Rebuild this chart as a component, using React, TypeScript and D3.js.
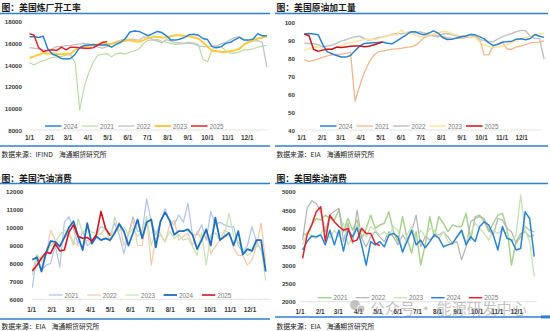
import React from 'react';
import * as d3 from 'd3';

const W = 550;
const H = 331;

const monthLabels = ['1/1', '2/1', '3/1', '4/1', '5/1', '6/1', '7/1', '8/1', '9/1', '10/1', '11/1', '12/1'];
const monthDays = [0, 31, 59, 90, 120, 151, 181, 212, 243, 273, 304, 334];

// 图：美国炼厂开工率 (weekly)
const refinery2024 = [16600, 16600, 16550, 16650, 15500, 15000, 14850, 14600, 14550, 14600, 15000, 15600, 15800, 15850, 15900, 15850, 15850, 15850, 15650, 15900, 16100, 16450, 17050, 17150, 17100, 16900, 16700, 16900, 17100, 17000, 16700, 16300, 16300, 16400, 16550, 16800, 16850, 16750, 16450, 16350, 15700, 15600, 15700, 16000, 16100, 16350, 16550, 16300, 16300, 16400, 16900, 16700, 16700];
const refinery2021 = [14200, 14000, 14250, 14400, 14550, 14700, 14750, 14800, 14900, 14950, 14200, 9850, 12000, 13300, 14300, 14900, 15000, 15050, 14750, 15050, 15100, 15000, 15200, 15300, 15500, 16000, 16300, 16300, 16350, 16200, 16100, 16000, 15900, 15950, 16000, 16000, 16050, 15900, 14500, 14300, 15400, 15700, 15700, 15300, 15100, 15100, 15200, 15400, 15400, 15500, 15650, 15750, 15800];
const refinery2022 = [15600, 15550, 15500, 15400, 15350, 15500, 15700, 15700, 15800, 15800, 15900, 15950, 16000, 15950, 15800, 15650, 15550, 15700, 16000, 16150, 16300, 16350, 16400, 16350, 16300, 16600, 16550, 16350, 16200, 16050, 16350, 16200, 16050, 16050, 16000, 16100, 15950, 15800, 15700, 15700, 15750, 15800, 15950, 16100, 16350, 16550, 16600, 16350, 16150, 16200, 16250, 16100, 13800];
const refinery2023 = [14650, 14800, 14950, 15100, 15050, 15100, 15000, 15000, 15050, 15050, 15400, 15600, 15700, 15750, 15850, 15900, 15950, 15950, 15950, 16050, 16200, 16250, 16300, 16200, 16150, 16300, 16500, 16600, 16600, 16550, 16550, 16650, 16750, 16750, 16650, 16650, 16550, 16450, 16100, 15700, 15300, 15300, 15200, 15200, 15300, 15350, 15500, 15900, 16100, 16300, 16450, 16550, 16650];
const refinery2025 = [16900, 16750, 15600, 15250, 15350, 15400, 15350, 15650, 15400, 15650, 15650, 15600, 15550, 15550, 15600, 15850, 16100, 16150];

// 图：美国原油加工量
const crude2024 = [93.5, 93.8, 93.5, 93.1, 87.5, 83.5, 82.5, 81.5, 80.7, 80.6, 81.5, 84.2, 86.7, 88.2, 88.4, 88.6, 88.8, 89.0, 88.3, 88.0, 89.5, 91.2, 92.8, 94.6, 94.8, 93.6, 93.0, 94.0, 95.2, 94.0, 91.5, 90.4, 90.5, 91.3, 92.0, 92.4, 93.2, 93.0, 92.0, 90.8, 88.6, 87.0, 87.8, 89.0, 89.2, 89.5, 90.6, 90.8, 90.3, 91.0, 93.2, 92.2, 91.6];
const crude2021 = [79.0, 78.2, 78.8, 79.6, 80.5, 81.3, 81.8, 82.1, 82.3, 82.7, 83.3, 56.0, 64.5, 72.0, 77.5, 81.5, 83.5, 84.0, 84.5, 85.0, 85.2, 85.5, 86.0, 86.3, 87.0, 89.0, 91.5, 92.5, 93.0, 92.5, 92.0, 91.5, 91.0, 91.0, 91.0, 91.5, 92.0, 92.5, 91.0, 81.8, 82.0, 87.0, 88.0, 88.7, 85.0, 85.0, 86.3, 86.8, 87.5, 88.5, 88.8, 89.0, 89.8];
const crude2022 = [88.3, 88.2, 88.0, 87.5, 86.2, 86.8, 87.3, 88.3, 89.5, 90.3, 91.2, 92.0, 92.2, 91.0, 90.0, 90.7, 91.5, 91.8, 92.5, 93.3, 93.8, 93.6, 94.2, 94.6, 94.0, 94.7, 94.0, 93.3, 92.3, 91.8, 93.5, 93.8, 93.2, 92.5, 92.0, 92.2, 91.8, 91.5, 90.5, 89.8, 89.2, 89.2, 90.8, 92.0, 93.0, 93.8, 94.7, 95.5, 95.3, 92.2, 91.0, 91.0, 79.4];
const crude2023 = [84.6, 85.3, 86.0, 86.4, 85.0, 84.8, 85.2, 85.8, 87.0, 88.0, 88.8, 89.2, 89.8, 90.4, 90.5, 90.3, 90.8, 91.6, 92.4, 93.0, 92.8, 95.7, 94.0, 93.5, 93.0, 91.8, 92.2, 93.0, 93.5, 94.0, 94.8, 94.8, 93.8, 93.0, 92.3, 92.8, 92.0, 91.5, 89.0, 87.5, 86.5, 86.0, 86.2, 86.6, 87.5, 89.0, 89.8, 90.8, 91.6, 92.4, 93.2, 93.6, 93.9];
const crude2025 = [93.5, 92.5, 85.0, 83.8, 84.5, 85.0, 85.0, 86.2, 86.0, 86.3, 86.6, 86.8, 86.8, 86.4, 86.7, 87.4, 88.2, 89.0];

// 图：美国汽油消费
const gasoline2021 = [6650, 8500, 7600, 7900, 8000, 9000, 7800, 10300, 10600, 9900, 9100, 9800, 9000, 9200, 9600, 10050, 9950, 9600, 10250, 9600, 8550, 9600, 10600, 9800, 9800, 11600, 10300, 9600, 10300, 11050, 10400, 10150, 10700, 10300, 11350, 9600, 9600, 10150, 9300, 10900, 10150, 10300, 10150, 10050, 10050, 9000, 8650, 9000, 10050, 9200, 8750, 7750];
const gasoline2022 = [7550, 8500, 8100, 8500, 9850, 9300, 8850, 9400, 9700, 9200, 9000, 8950, 9300, 9100, 9600, 9700, 9950, 9600, 9800, 10300, 9000, 9700, 10400, 9000, 9000, 10500, 7900, 9400, 9600, 9200, 10150, 10400, 9300, 9500, 9700, 9000, 9800, 9300, 9800, 8550, 8950, 9300, 9850, 9700, 8850, 8450, 8450, 7900, 8200, 9000, 10250, 8100];
const gasoline2023 = [7350, 8500, 8200, 8500, 9000, 9200, 9600, 9850, 9700, 9000, 10500, 9700, 9950, 9750, 9700, 9600, 10050, 9200, 10600, 9800, 10050, 9600, 9950, 9500, 9800, 10600, 9000, 9800, 9700, 9200, 9800, 9400, 9600, 9300, 9400, 8950, 8450, 9700, 7900, 9600, 9700, 9300, 9600, 10800, 9500, 9200, 8750, 8450, 8650, 9000, 8850, 7050];
const gasoline2024 = [8200, 8350, 7550, 8600, 9250, 9200, 8950, 9450, 10000, 10350, 9500, 8750, 10250, 9100, 9500, 9300, 9400, 9300, 9700, 10200, 9800, 9000, 9700, 10450, 9400, 10300, 10450, 8900, 10350, 10850, 10400, 9600, 9800, 9800, 9900, 9600, 8800, 9300, 9900, 9000, 10550, 9300, 9500, 9700, 9000, 9800, 8500, 8800, 8700, 9300, 9300, 7550];
const gasoline2025 = [7580, 7900, 8300, 8620, 8560, 9100, 8700, 8750, 9750, 10150, 9500, 9400, 9450, 9250, 9600, 10900, 9950, 9550];

// 图：美国柴油消费
const diesel2021 = [3820, 3860, 4090, 4270, 4230, 4360, 4270, 4230, 4500, 3910, 4270, 3950, 4230, 3730, 4000, 4360, 4000, 4090, 4140, 4450, 3910, 3640, 4320, 3730, 3320, 3910, 3000, 3550, 4320, 3770, 4320, 4140, 3910, 4090, 4050, 4050, 4410, 3680, 4320, 4360, 4180, 3910, 4140, 4360, 4410, 4000, 3000, 3640, 3860, 3910, 3770, 3820];
const diesel2022 = [3680, 4550, 4750, 4680, 4450, 3910, 4360, 4470, 4550, 3640, 4140, 3590, 4500, 3730, 3500, 3770, 3910, 3770, 3640, 3910, 3770, 3550, 3820, 3640, 3910, 4360, 3500, 3770, 3680, 3820, 3820, 3910, 3770, 3590, 3640, 3140, 3500, 4180, 4270, 4320, 4270, 3950, 3820, 4270, 4230, 4000, 3910, 3590, 3770, 4050, 3950, 3910];
const diesel2023 = [3550, 3910, 3770, 3730, 3860, 4050, 3730, 3950, 3770, 4140, 3550, 3770, 4090, 3950, 3770, 4050, 3950, 3820, 3910, 3770, 4050, 3950, 3320, 3820, 4050, 3680, 3950, 3770, 4000, 3950, 3730, 3910, 3640, 3550, 3770, 3950, 3640, 3860, 4140, 4000, 3860, 3680, 3950, 3860, 3950, 3860, 3640, 3820, 4910, 3950, 3640, 2680];
const diesel2024 = [3410, 3640, 3790, 3770, 3820, 3550, 3950, 3550, 3950, 3380, 3950, 3770, 4020, 3550, 3000, 3640, 3550, 3640, 3500, 3820, 3860, 3770, 3360, 3640, 3950, 3550, 3680, 3470, 3640, 3820, 3730, 3500, 3550, 3590, 3770, 3950, 3550, 3770, 3640, 4050, 4180, 4090, 3820, 3410, 4050, 3730, 3680, 3410, 3450, 4450, 4270, 3230];
const diesel2025 = [3180, 3820, 4090, 4450, 4590, 3650, 4360, 4180, 4050, 3950, 4000, 3640, 3680, 4000, 3860, 3860, 3590, 3530];

interface SeriesDef {
  name: string;
  values: number[];
  color: string;
  width: number;
}

interface PanelDef {
  title: string;
  source: string;
  ruleX: [number, number];
  titleY: number;
  ruleTop: number;
  ruleBottom: number;
  sourceY: number;
  xRange: [number, number];
  startDay: number;
  yDomain: [number, number];
  yRange: [number, number];
  yStep: number;
  yLabelX: number;
  xLabelY: number;
  legendY: number;
  legendX: number;
  legendStep: number;
  legendLine: number;
  legendOrder: string[];
  series: SeriesDef[];
  tab?: boolean;
}

const BLUE = '#2a83d2';

const panels: PanelDef[] = [
  {
    title: '图：美国炼厂开工率',
    source: '数据来源：IFIND    海通期货研究所',
    ruleX: [0, 270],
    titleY: 7.5,
    ruleTop: 13.5,
    ruleBottom: 146,
    sourceY: 154,
    xRange: [29.5, 247.3],
    startDay: 0,
    yDomain: [8000, 18000],
    yRange: [130, 21.7],
    yStep: 2000,
    yLabelX: 22,
    xLabelY: 137.5,
    legendY: 126,
    legendX: 45,
    legendStep: 36.5,
    legendLine: 16.5,
    legendOrder: ['2024', '2021', '2022', '2023', '2025'],
    series: [
      { name: '2021', values: refinery2021, color: '#b3d99b', width: 1.1 },
      { name: '2022', values: refinery2022, color: '#c3c3c3', width: 1.3 },
      { name: '2023', values: refinery2023, color: '#ffcb3d', width: 2 },
      { name: '2024', values: refinery2024, color: BLUE, width: 1.5 },
      { name: '2025', values: refinery2025, color: '#e0242a', width: 1.5 },
    ],
  },
  {
    title: '图：美国原油加工量',
    source: '数据来源：EIA    海通期货研究所',
    ruleX: [275, 548],
    titleY: 7.5,
    ruleTop: 13.5,
    ruleBottom: 146,
    sourceY: 154,
    xRange: [301.7, 521.7],
    startDay: 4,
    yDomain: [40, 100],
    yRange: [130, 22.3],
    yStep: 10,
    yLabelX: 295,
    xLabelY: 137.5,
    legendY: 126,
    legendX: 320,
    legendStep: 36.5,
    legendLine: 16.5,
    legendOrder: ['2024', '2021', '2022', '2023', '2025'],
    series: [
      { name: '2021', values: crude2021, color: '#f6b48a', width: 1.3 },
      { name: '2022', values: crude2022, color: '#c3c3c3', width: 1.5 },
      { name: '2023', values: crude2023, color: '#ffe59a', width: 1.5 },
      { name: '2024', values: crude2024, color: BLUE, width: 1.5 },
      { name: '2025', values: crude2025, color: '#c8141c', width: 1.5 },
    ],
  },
  {
    title: '图：美国汽油消费',
    source: '数据来源：EIA    海通期货研究所',
    ruleX: [0, 270],
    titleY: 178,
    ruleTop: 183.5,
    ruleBottom: 319,
    sourceY: 325.5,
    xRange: [31.7, 250],
    startDay: 1,
    yDomain: [6000, 12000],
    yRange: [299.3, 191.7],
    yStep: 1000,
    yLabelX: 23.3,
    xLabelY: 309,
    legendY: 295,
    legendX: 49,
    legendStep: 38.2,
    legendLine: 13.5,
    legendOrder: ['2021', '2022', '2023', '2024', '2025'],
    series: [
      { name: '2021', values: gasoline2021, color: '#aec4e8', width: 1.2 },
      { name: '2022', values: gasoline2022, color: '#f8c7a8', width: 1.2 },
      { name: '2023', values: gasoline2023, color: '#c6e2b5', width: 1.2 },
      { name: '2024', values: gasoline2024, color: '#1f6fc0', width: 1.8 },
      { name: '2025', values: gasoline2025, color: '#cf1820', width: 1.6 },
    ],
  },
  {
    title: '图：美国柴油消费',
    source: '数据来源：EIA    海通期货研究所',
    ruleX: [275, 548],
    titleY: 178,
    ruleTop: 183.5,
    ruleBottom: 317,
    sourceY: 325.5,
    xRange: [300, 516.7],
    startDay: 4,
    yDomain: [2000, 5000],
    yRange: [301.7, 191.7],
    yStep: 500,
    yLabelX: 295.7,
    xLabelY: 311,
    legendY: 297.7,
    legendX: 318,
    legendStep: 37.7,
    legendLine: 13.5,
    legendOrder: ['2021', '2022', '2023', '2024', '2025'],
    tab: true,
    series: [
      { name: '2021', values: diesel2021, color: '#a9d18e', width: 1.5 },
      { name: '2022', values: diesel2022, color: '#b2b2b2', width: 1.2 },
      { name: '2023', values: diesel2023, color: '#c6e2b5', width: 1.3 },
      { name: '2024', values: diesel2024, color: BLUE, width: 1.5 },
      { name: '2025', values: diesel2025, color: '#e0242a', width: 1.5 },
    ],
  },
];

const CJK = '"Noto Sans CJK SC", "Noto Sans", sans-serif';
const NUM = '"Liberation Sans", Arial, sans-serif';

function Panel({ p }: { p: PanelDef }) {
  const x = d3.scaleLinear().domain([0, 334]).range(p.xRange);
  const y = d3.scaleLinear().domain(p.yDomain).range(p.yRange);
  const yTicks = d3.range(p.yDomain[0], p.yDomain[1] + p.yStep / 2, p.yStep);
  const line = d3
    .line<number>()
    .x((_, i) => x(p.startDay + 7 * i))
    .y((d) => y(d))
    .curve(d3.curveLinear);
  const byName = new Map(p.series.map((s) => [s.name, s]));
  const axisY = p.yRange[0];
  const tickDays = [...monthDays, 365];
  return (
    <g>
      <text x={p.ruleX[0] + 1.5} y={p.titleY} dominantBaseline="central" fontFamily={CJK} fontWeight={700} fontSize={8.8} fill="#1a1a1a">
        {p.title}
      </text>
      <line x1={p.ruleX[0]} x2={p.ruleX[1]} y1={p.ruleTop} y2={p.ruleTop} stroke="#2f7fcf" strokeWidth={1.4} />
      <line x1={p.ruleX[0]} x2={p.ruleX[1]} y1={p.ruleBottom} y2={p.ruleBottom} stroke="#2f7fcf" strokeWidth={1.4} />
      {p.tab && <rect x={541} y={p.ruleBottom - 1.6} width={9} height={3} fill="#2f7fcf" />}
      <text x={p.ruleX[0] + 1.5} y={p.sourceY} dominantBaseline="central" fontFamily={CJK} fontSize={6.8} fill="#1a1a1a" style={{ whiteSpace: 'pre' }}>
        {p.source}
      </text>
      {yTicks.map((t) => (
        <text key={t} x={p.yLabelX} y={y(t)} textAnchor="end" dominantBaseline="central" fontFamily={NUM} fontWeight={700} fontSize={6.2} fill="#3a3a3a">
          {t}
        </text>
      ))}
      <line x1={x(0)} x2={x(365)} y1={axisY} y2={axisY} stroke="#d9d9d9" strokeWidth={0.7} />
      {tickDays.map((d) => (
        <line key={'t' + d} x1={x(d) - 10} x2={x(d) - 10} y1={axisY} y2={axisY + 2} stroke="#e0e0e0" strokeWidth={0.6} />
      ))}
      {monthDays.map((d, i) => (
        <text key={d} x={x(d)} y={p.xLabelY} textAnchor="middle" dominantBaseline="central" fontFamily={NUM} fontWeight={700} fontSize={6.4} fill="#3a3a3a">
          {monthLabels[i]}
        </text>
      ))}
      {p.series.map((s) => (
        <path key={s.name} d={line(s.values) || ''} fill="none" stroke={s.color} strokeWidth={s.width} strokeLinejoin="round" />
      ))}
      {p.legendOrder.map((name, k) => {
        const s = byName.get(name)!;
        const lx = p.legendX + k * p.legendStep;
        return (
          <g key={name}>
            <line x1={lx} x2={lx + p.legendLine} y1={p.legendY} y2={p.legendY} stroke={s.color} strokeWidth={s.width} />
            <text x={lx + p.legendLine + 2} y={p.legendY} dominantBaseline="central" fontFamily={NUM} fontSize={6.3} fill="#7a7a7a">
              {name}
            </text>
          </g>
        );
      })}
    </g>
  );
}

export default function App() {
  return (
    <svg width={W} height={H} viewBox={`0 0 ${W} ${H}`} style={{ position: 'absolute', left: 0, top: 0, background: '#fff' }}>
      <rect x={0} y={0} width={W} height={H} fill="#fff" />
      {panels.map((p, i) => (
        <Panel key={i} p={p} />
      ))}
      <g opacity={0.5}>
        <circle cx={355} cy={305} r={5} fill="#8a8a8a" />
        <circle cx={361} cy={309} r={4} fill="#8a8a8a" stroke="#fff" strokeWidth={0.8} />
        <text x={370} y={307.5} dominantBaseline="central" fontFamily={CJK} fontSize={15} fill="#8a8a8a" style={{ whiteSpace: 'pre' }}>
          公众号 · 能源研发中心
        </text>
      </g>
    </svg>
  );
}
